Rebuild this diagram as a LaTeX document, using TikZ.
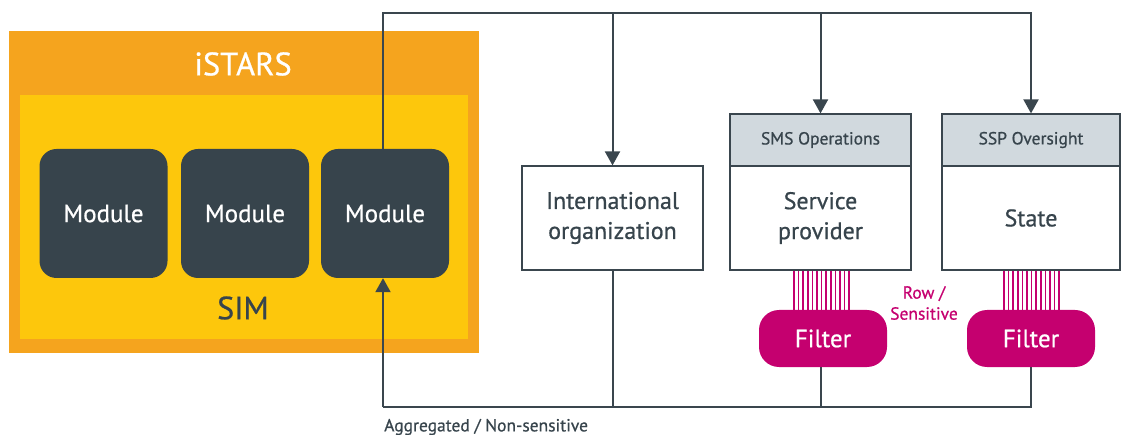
\documentclass[tikz,border=0pt]{standalone}
\usepackage{fontspec}
\setmainfont{PT Sans}[FakeBold=0.7]
\usetikzlibrary{arrows.meta}
\definecolor{orng}{HTML}{F5A41E}
\definecolor{yllw}{HTML}{FDC70C}
\definecolor{slate}{HTML}{37444C}
\definecolor{hdr}{HTML}{D1D9DE}
\definecolor{mag}{HTML}{C5006F}
\definecolor{ln}{HTML}{3A464E}
\tikzset{
  modbox/.style={draw=none,fill=slate,rounded corners=17pt,minimum width=128pt,minimum height=129pt,text=white,font=\fontsize{25}{28}\selectfont},
  wbox/.style={draw=ln,line width=1.2pt,fill=white,minimum height=104pt,align=center,text=slate,font=\fontsize{24}{30}\selectfont},
  hbox/.style={draw=ln,line width=1.2pt,fill=hdr,minimum height=52pt,text=slate,font=\fontsize{17.5}{20}\selectfont},
  fbox/.style={fill=mag,rounded corners=20pt,minimum width=128pt,minimum height=57pt,text=white,font=\fontsize{25}{30}\selectfont},
  conn/.style={draw=ln,line width=2pt},
  arr/.style={conn,-{Triangle[length=14pt,width=15pt]}},
  stripe/.style={draw=mag,line width=1.5pt},
}
\begin{document}
\begin{tikzpicture}[x=1pt,y=-1pt]
\useasboundingbox (0,0) rectangle (1129,435);
% iSTARS frame
\node[fill=orng,minimum width=470pt,minimum height=322pt,inner sep=0] (istars) at (244,192) {};
\node[fill=yllw,minimum width=448pt,minimum height=244pt,inner sep=0] (sim) at (244,217) {};
\node[text=white,font=\fontsize{32.5}{34}\selectfont] (istarslbl) at (243,64) {iSTARS};
\node[text=slate,font=\fontsize{32}{34}\selectfont] (simlbl) at (243,308) {SIM};
\node[modbox] (m1) at (103.5,213.5) {Module};
\node[modbox] (m2) at (245,213.5) {Module};
\node[modbox] (m3) at (385,213.5) {Module};
% right boxes
\node[wbox,minimum width=181pt] (io) at (612.5,218) {International\\organization};
\node[wbox,minimum width=181pt] (sp) at (820.5,218) {Service\\provider};
\node[hbox,minimum width=181pt] (sphead) at (820.5,140) {SMS Operations};
\node[wbox,minimum width=178pt] (st) at (1031,218) {State};
\node[hbox,minimum width=178pt] (sthead) at (1031,140) {SSP Oversight};
\node[fbox] (f1) at (823,338.5) {Filter};
\node[fbox] (f2) at (1031,338.5) {Filter};
% stripes
\foreach \i in {0,...,12}{
  \draw[stripe] ({794+\i*4.6},0 |- sp.south) -- ({794+\i*4.6},0 |- f1.north);
  \draw[stripe] ({1004+\i*4.6},0 |- st.south) -- ({1004+\i*4.6},0 |- f2.north);
}
\node[text=mag,align=center,font=\fontsize{17.5}{21}\selectfont] (rowlbl) at (924,303) {Row /\\Sensitive};
% connectors
\coordinate (tl) at (383,13);
\coordinate (bl) at (383,407);
\draw[arr] (m3.north -| tl) -- (tl) -| (sthead.north);
\draw[arr] (io.north |- tl) -- (io.north);
\draw[arr] (sphead.north |- tl) -- (sphead.north);
\draw[conn] (f2.south -| sthead.north) |- (bl);
\draw[arr] (bl) -- (m3.south -| bl);
\draw[conn] (io.south) -- (io.south |- bl);
\draw[conn] (f1.south -| sphead.north) -- (sphead.north |- bl);
\node[anchor=west,text=slate,font=\fontsize{17.5}{19}\selectfont,inner sep=0] (agglbl) at (384,427) {Aggregated / Non-sensitive};
\end{tikzpicture}
\end{document}
